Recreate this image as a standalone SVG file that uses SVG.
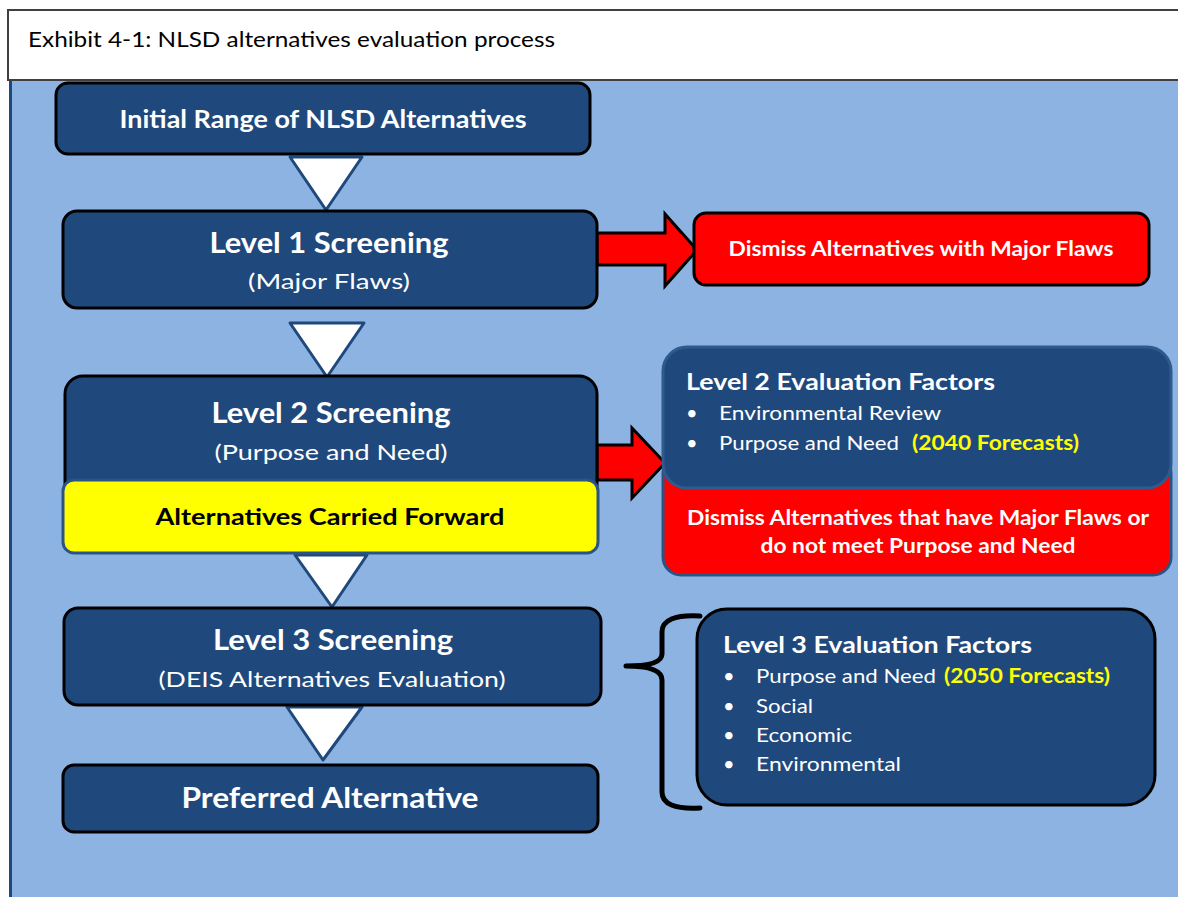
<svg xmlns="http://www.w3.org/2000/svg" width="1178" height="897" viewBox="0 0 1178 897">
<style>
text{font-family:Lato,"Open Sans","Liberation Sans",sans-serif;}
.bg{fill:#8DB3E2;}
.node{fill:#1F497D;stroke:#000;stroke-width:3;}
.tri{fill:#fff;stroke:#1F497D;stroke-width:3;stroke-linejoin:round;}
.rarrow{fill:#FF0000;stroke:#000;stroke-width:3;stroke-linejoin:miter;}
.w{fill:#fff;}
.b{font-weight:bold;}
.c{text-anchor:middle;}
.y{fill:#FFFF00;font-weight:bold;}
</style>
<rect x="0" y="0" width="1178" height="897" fill="#fff"/>
<g id="background">
<rect class="bg" x="9" y="80" width="1175" height="820"/>
<line x1="10.5" y1="80" x2="10.5" y2="897" stroke="#1F497D" stroke-width="3"/>
</g>
<g id="title">
<rect x="8" y="10" width="1180" height="70" fill="#fff" stroke="#404040" stroke-width="2"/>
<text x="28" y="47" font-size="21" fill="#000" textLength="527" lengthAdjust="spacingAndGlyphs">Exhibit 4-1: NLSD alternatives evaluation process</text>
</g>
<g id="connectors">
<polygon class="tri" points="290,157 362,157 326,210"/>
<polygon class="tri" points="290,323 364,323 327,377"/>
<polygon class="tri" points="295,555 367,555 332,607"/>
<polygon class="tri" points="287,707 362,707 323,760"/>
<polygon class="rarrow" points="597,233 665,233 665,214 697,250 665,286 665,265 597,265"/>
<polygon class="rarrow" points="597,445 632,445 632,428 665,463 632,498 632,480 597,480"/>
<path d="M700,616 Q662,614 662,632 L662,654 Q662,666 626,666 Q662,666 662,680 L662,792 Q662,810 700,808" fill="none" stroke="#000" stroke-width="5" stroke-linejoin="round" stroke-linecap="round"/>
</g>
<g id="initial">
<rect class="node" x="56" y="83" width="534" height="71" rx="12"/>
<text class="w b c" x="323" y="128" font-size="24" textLength="407" lengthAdjust="spacingAndGlyphs">Initial Range of NLSD Alternatives</text>
</g>
<g id="level1">
<rect class="node" x="63" y="211" width="534" height="97" rx="14"/>
<text class="w b c" x="329" y="253" font-size="28" textLength="239" lengthAdjust="spacingAndGlyphs">Level 1 Screening</text>
<text class="w c" x="329" y="289" font-size="22" textLength="162" lengthAdjust="spacingAndGlyphs">(Major Flaws)</text>
</g>
<g id="dismiss1">
<rect x="694" y="213" width="455" height="72" rx="12" fill="#FF0000" stroke="#000" stroke-width="3"/>
<text class="w b c" x="921" y="256" font-size="20" textLength="385" lengthAdjust="spacingAndGlyphs">Dismiss Alternatives with Major Flaws</text>
</g>
<g id="level2">
<rect class="node" x="65" y="376" width="532" height="160" rx="18"/>
<text class="w b c" x="331" y="423" font-size="28" textLength="239" lengthAdjust="spacingAndGlyphs">Level 2 Screening</text>
<text class="w c" x="331" y="460" font-size="22" textLength="233" lengthAdjust="spacingAndGlyphs">(Purpose and Need)</text>
</g>
<g id="carried">
<rect x="63" y="480" width="535" height="73" rx="11" fill="#FFFF00" stroke="#2A5485" stroke-width="3"/>
<text class="b c" x="330" y="525" font-size="22" fill="#000" textLength="349" lengthAdjust="spacingAndGlyphs">Alternatives Carried Forward</text>
</g>
<g id="level2eval">
<rect x="663" y="455" width="508" height="120" rx="18" fill="#FF0000" stroke="#2A5485" stroke-width="3"/>
<rect x="663" y="347" width="508" height="141" rx="24" fill="#1F497D" stroke="#2E5A8E" stroke-width="3"/>
<text class="w b" x="686" y="390" font-size="22" textLength="309" lengthAdjust="spacingAndGlyphs">Level 2 Evaluation Factors</text>
<text class="w" x="686" y="420" font-size="20">•</text>
<text class="w" x="719" y="420" font-size="20" textLength="222" lengthAdjust="spacingAndGlyphs">Environmental Review</text>
<text class="w" x="686" y="450" font-size="20">•</text>
<text class="w" x="719" y="450" font-size="20" textLength="180" lengthAdjust="spacingAndGlyphs">Purpose and Need</text>
<text class="y" x="912" y="450" font-size="20" textLength="167" lengthAdjust="spacingAndGlyphs">(2040 Forecasts)</text>
<text class="w b c" x="918" y="525" font-size="20" textLength="462" lengthAdjust="spacingAndGlyphs">Dismiss Alternatives that have Major Flaws or</text>
<text class="w b c" x="918" y="553" font-size="20" textLength="315" lengthAdjust="spacingAndGlyphs">do not meet Purpose and Need</text>
</g>
<g id="level3">
<rect class="node" x="64" y="608" width="537" height="97" rx="14"/>
<text class="w b c" x="333" y="650" font-size="28" textLength="240" lengthAdjust="spacingAndGlyphs">Level 3 Screening</text>
<text class="w c" x="332" y="687" font-size="22" textLength="347" lengthAdjust="spacingAndGlyphs">(DEIS Alternatives Evaluation)</text>
</g>
<g id="preferred">
<rect class="node" x="63" y="765" width="535" height="67" rx="11"/>
<text class="w b c" x="330" y="808" font-size="28" textLength="297" lengthAdjust="spacingAndGlyphs">Preferred Alternative</text>
</g>
<g id="level3eval">
<rect class="node" x="697" y="609" width="458" height="196" rx="30"/>
<text class="w b" x="723" y="653" font-size="22" textLength="309" lengthAdjust="spacingAndGlyphs">Level 3 Evaluation Factors</text>
<text class="w" x="723" y="683" font-size="20">•</text>
<text class="w" x="756" y="683" font-size="20" textLength="180" lengthAdjust="spacingAndGlyphs">Purpose and Need</text>
<text class="y" x="944" y="683" font-size="20" textLength="166" lengthAdjust="spacingAndGlyphs">(2050 Forecasts)</text>
<text class="w" x="723" y="713" font-size="20">•</text>
<text class="w" x="756" y="713" font-size="20" textLength="57" lengthAdjust="spacingAndGlyphs">Social</text>
<text class="w" x="723" y="742" font-size="20">•</text>
<text class="w" x="756" y="742" font-size="20" textLength="96" lengthAdjust="spacingAndGlyphs">Economic</text>
<text class="w" x="723" y="771" font-size="20">•</text>
<text class="w" x="756" y="771" font-size="20" textLength="145" lengthAdjust="spacingAndGlyphs">Environmental</text>
</g>
</svg>
